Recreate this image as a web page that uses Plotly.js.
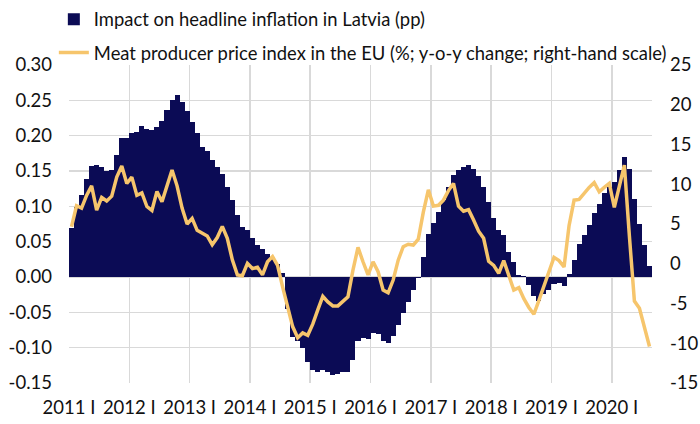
<!DOCTYPE html>
<html>
<head>
<meta charset="utf-8">
<script src="https://cdn.plot.ly/plotly-3.0.1.min.js"></script>
<style>html,body{margin:0;padding:0;background:#fff;}#chart{width:700px;height:424px;}</style>
</head>
<body>
<div id="chart"></div>
<script>
// Monthly data, January 2011 – August 2020
const startYear = 2011;
const impactLatvia = [
  0.069,0.099,0.116,0.138,0.157,0.158,0.156,0.150,0.151,0.173,0.196,0.197,
  0.204,0.205,0.213,0.210,0.208,0.212,0.221,0.236,0.251,0.258,0.248,0.235,
  0.219,0.204,0.184,0.179,0.165,0.156,0.146,0.128,0.109,0.088,0.071,0.066,
  0.055,0.045,0.039,0.033,0.028,0.018,0.006,-0.045,-0.085,-0.090,-0.100,-0.120,
  -0.132,-0.135,-0.132,-0.135,-0.139,-0.137,-0.135,-0.134,-0.117,-0.090,-0.087,-0.088,
  -0.079,-0.081,-0.090,-0.093,-0.083,-0.068,-0.051,-0.035,-0.018,-0.002,0.029,0.061,
  0.076,0.092,0.109,0.128,0.144,0.151,0.156,0.158,0.153,0.143,0.127,0.106,
  0.083,0.066,0.059,0.036,0.021,0.003,0.001,-0.012,-0.027,-0.034,-0.024,-0.018,
  -0.010,-0.008,-0.013,0.004,0.024,0.047,0.060,0.073,0.090,0.104,0.119,0.128,
  0.135,0.152,0.170,0.153,0.110,0.075,0.045,0.015
];
const meatPPI = [
  4.65,7.3,7.0,8.6,9.8,6.75,8.35,7.9,8.5,10.9,12.3,10.1,
  10.9,8.6,8.9,7.2,6.7,9.1,7.8,9.9,11.8,9.8,7.0,5.0,
  5.7,4.2,3.8,3.5,2.4,3.3,4.7,3.2,0.5,-1.4,-1.5,0.05,
  -0.6,-0.45,-1.4,0.25,0.9,-0.2,-2.9,-5.4,-7.9,-9.3,-8.7,-9.0,
  -7.6,-5.8,-4.1,-4.8,-5.3,-5.3,-4.65,-4.15,-0.8,2.05,0.25,-1.4,
  0.25,-1.0,-3.3,-3.65,-2.05,0.45,2.15,2.45,2.35,3.1,6.5,9.3,
  7.25,7.35,8.0,9.2,10.1,7.25,6.6,6.8,5.5,4.1,3.2,0.3,
  -0.2,-1.2,0.4,-1.5,-3.3,-3.0,-4.4,-5.5,-6.35,-4.6,-2.9,-1.2,
  0.8,0.4,-0.4,4.8,8.0,8.1,8.9,9.6,10.2,9.05,9.6,10.1,
  7.1,9.9,12.4,3.5,-4.7,-5.6,-8.1,-10.4
];
const yearTicks = [2011,2012,2013,2014,2015,2016,2017,2018,2019,2020];
const yearLabels = ["2011 I","2012 I","2013 I","2014 I","2015 I","2016 I","2017 I","2018 I","2019 I","2020 I"];
const leftTickVals = [-0.15,-0.10,-0.05,0,0.05,0.10,0.15,0.20,0.25,0.30];
const leftTickText = ["-0.15","-0.10","-0.05","0.00","0.05","0.10","0.15","0.20","0.25","0.30"];
const rightTickVals = [-15,-10,-5,0,5,10,15,20,25];
const rightTickText = ["-15","-10","-5","0","5","10","15","20","25"];
const seriesNames = ["Impact on headline inflation in Latvia (pp)",
                     "Meat producer price index in the EU (%; y-o-y change; right-hand scale)"];

// month positions (centre of each month on a year axis)
const months = impactLatvia.map((_, i) => startYear + (i + 0.5) / 12);
const xEnd = startYear + impactLatvia.length / 12;

const FONT = 'Lato, "Open Sans", "DejaVu Sans", sans-serif';
const TXT = '#111111';
const GRID = '#D9D9D9';
const FS = 18.5;
const LFS = 18.4;

const traces = [
  {
    type: 'bar', x: months, y: impactLatvia, name: seriesNames[0],
    marker: {color: '#0B0B55', line: {width: 0}},
    width: 1/12, yaxis: 'y', legend: 'legend', hoverinfo: 'skip'
  },
  {
    type: 'scatter', mode: 'lines', x: months, y: meatPPI, name: seriesNames[1],
    line: {color: '#F6C56C', width: 3.5}, yaxis: 'y2', legend: 'legend2', hoverinfo: 'skip'
  }
];

const layout = {
  width: 700, height: 424,
  margin: {l: 69, r: 48, t: 65, b: 41, pad: 0, autoexpand: false},
  paper_bgcolor: '#ffffff', plot_bgcolor: '#ffffff',
  font: {family: FONT, size: FS, color: TXT},
  bargap: 0,
  showlegend: true,
  xaxis: {
    range: [startYear, xEnd], tickmode: 'array', tickvals: yearTicks, ticktext: yearLabels,
    showgrid: true, gridcolor: GRID, gridwidth: 1.5, zeroline: false, showline: false,
    ticks: '', ticklabelstandoff: 11, tickfont: {family: FONT, size: FS, color: TXT}, fixedrange: true,
    automargin: false
  },
  yaxis: {
    range: [-0.15, 0.30], tickmode: 'array', tickvals: leftTickVals, ticktext: leftTickText,
    showgrid: true, gridcolor: GRID, gridwidth: 1.5, zeroline: false, showline: false,
    ticks: '', ticklabelstandoff: 16, tickfont: {family: FONT, size: FS, color: TXT}, automargin: false
  },
  yaxis2: {
    range: [-15, 25], tickmode: 'array', tickvals: rightTickVals, ticktext: rightTickText,
    overlaying: 'y', side: 'right', showgrid: false, zeroline: false, showline: false,
    ticks: '', ticklabelstandoff: 17, tickfont: {family: FONT, size: FS, color: TXT}, automargin: false
  },
  legend: {
    x: -0.026, y: 1.202, xanchor: 'left', yanchor: 'top', bgcolor: 'rgba(0,0,0,0)',
    font: {family: FONT, size: LFS, color: TXT}, borderwidth: 0
  },
  legend2: {
    x: -0.026, y: 1.097, xanchor: 'left', yanchor: 'top', bgcolor: 'rgba(0,0,0,0)',
    font: {family: FONT, size: LFS, color: TXT}, borderwidth: 0
  }
};

Plotly.newPlot('chart', traces, layout, {staticPlot: true, displayModeBar: false});
</script>
</body>
</html>
